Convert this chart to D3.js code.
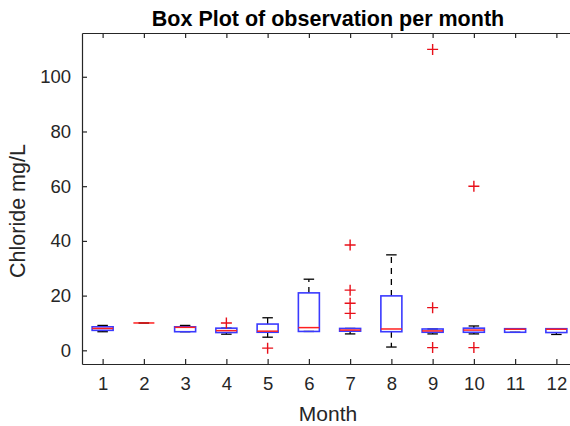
<!DOCTYPE html>
<html>
<head>
<meta charset="utf-8">
<script src="https://cdn.jsdelivr.net/npm/d3@7"></script>
<style>
  body { margin: 0; background: #fff; }
  svg { display: block; font-family: "Liberation Sans", Arial, sans-serif; }
</style>
</head>
<body>
<svg id="chart" width="570" height="426"></svg>
<script>
// values
const months = [1, 2, 3, 4, 5, 6, 7, 8, 9, 10, 11, 12];
const q1 = [7.3, 10, 6.8, 6.5, 6.6, 6.9, 7.0, 6.8, 6.6, 6.6, 6.6, 6.5];
const median = [8.0, 10, 8.4, 7.2, 7.0, 8.3, 7.4, 7.8, 7.1, 7.4, 7.7, 7.7];
const q3 = [8.6, 10, 8.6, 8.1, 9.6, 21, 8.0, 19.9, 7.8, 8.1, 7.9, 7.9];
const whiskerLow = [6.8, 10, 6.8, 5.9, 4.8, 6.9, 6.0, 1.2, 6.0, 6.0, 6.6, 5.8];
const whiskerHigh = [9.1, 10, 9.1, 8.1, 11.9, 26, 8.0, 34.9, 7.8, 8.9, 7.9, 7.9];
const outliers = [
    [], [], [], [10], [0.8], [],
    [13.5, 17.2, 22, 38.5], [], [1, 15.6, 110], [1, 60], [], []
];
const yTicks = [0, 20, 40, 60, 80, 100];

const svg = d3.select("#chart");

// plot box (right edge falls outside the window like in the picture)
const plotL = 82, plotR = 577, plotT = 33, plotB = 364;

const x = d3.scaleLinear().domain([0.5, 12.5]).range([plotL, plotR]);
const y = d3.scaleLinear().domain([-5, 116]).range([plotB, plotT]);

const axisColor = "#262626";
const boxW = 21, capW = 10.5, plusR = 5.5;

// axes (MATLAB style: ticks inside, box on)
const xAxis = svg.append("g")
    .attr("transform", `translate(0,${plotB})`)
    .call(d3.axisBottom(x).tickValues(months).tickSizeInner(-5).tickSizeOuter(0).tickPadding(13));
const xTop = svg.append("g")
    .attr("transform", `translate(0,${plotT})`)
    .call(d3.axisTop(x).tickValues(months).tickSizeInner(-5).tickSizeOuter(0).tickFormat(""));
const yAxis = svg.append("g")
    .attr("transform", `translate(${plotL},0)`)
    .call(d3.axisLeft(y).tickValues(yTicks).tickSizeInner(-5).tickSizeOuter(0).tickPadding(11));

[xAxis, xTop, yAxis].forEach(a => {
    a.select(".domain").attr("stroke", axisColor).attr("stroke-width", 1.2);
    a.selectAll(".tick line").attr("stroke", axisColor).attr("stroke-width", 1.2);
    a.selectAll(".tick text")
        .attr("fill", axisColor)
        .style("font-size", "18.5px")
        .style("font-family", "'Liberation Sans', Arial, sans-serif");
});
// right edge of the box
svg.append("line")
    .attr("x1", plotR).attr("x2", plotR).attr("y1", plotT).attr("y2", plotB)
    .attr("stroke", axisColor).attr("stroke-width", 1.2);

// boxes
const g = svg.append("g");
const data = months.map((m, i) => ({
    m, q1: q1[i], med: median[i], q3: q3[i],
    lo: whiskerLow[i], hi: whiskerHigh[i], out: outliers[i]
}));

const box = g.selectAll("g.box")
    .data(data)
    .join("g")
    .attr("class", "box");

// whiskers (dashed)
box.append("line")
    .attr("x1", d => x(d.m)).attr("x2", d => x(d.m))
    .attr("y1", d => y(d.q3)).attr("y2", d => y(d.hi))
    .attr("stroke", "#000").attr("stroke-width", 1.3)
    .attr("stroke-dasharray", "6,5");
box.append("line")
    .attr("x1", d => x(d.m)).attr("x2", d => x(d.m))
    .attr("y1", d => y(d.q1)).attr("y2", d => y(d.lo))
    .attr("stroke", "#000").attr("stroke-width", 1.3)
    .attr("stroke-dasharray", "6,5");

// caps
box.selectAll("line.cap")
    .data(d => [d.hi, d.lo].map(v => ({ m: d.m, v })))
    .join("line")
    .attr("class", "cap")
    .attr("x1", d => x(d.m) - capW / 2).attr("x2", d => x(d.m) + capW / 2)
    .attr("y1", d => y(d.v)).attr("y2", d => y(d.v))
    .attr("stroke", "#000").attr("stroke-width", 1.3);

// box outline
box.append("rect")
    .attr("x", d => x(d.m) - boxW / 2)
    .attr("width", boxW)
    .attr("y", d => y(d.q3))
    .attr("height", d => y(d.q1) - y(d.q3))
    .attr("fill", "none")
    .attr("stroke", "#3a3aff")
    .attr("stroke-width", 1.6);

// median
box.append("line")
    .attr("x1", d => x(d.m) - boxW / 2).attr("x2", d => x(d.m) + boxW / 2)
    .attr("y1", d => y(d.med)).attr("y2", d => y(d.med))
    .attr("stroke", "#ff2020").attr("stroke-width", 1.5);

// outliers as red +
box.selectAll("path.out")
    .data(d => d.out.map(v => ({ m: d.m, v })))
    .join("path")
    .attr("class", "out")
    .attr("d", d => {
        const cx = x(d.m), cy = y(d.v);
        return `M${cx - plusR},${cy}H${cx + plusR}M${cx},${cy - plusR}V${cy + plusR}`;
    })
    .attr("stroke", "#e8101a")
    .attr("stroke-width", 1.4)
    .attr("fill", "none");

// title and labels
svg.append("text")
    .attr("x", 328).attr("y", 26)
    .attr("text-anchor", "middle")
    .style("font-size", "21.5px")
    .style("font-weight", "bold")
    .attr("fill", "#000")
    .text("Box Plot of observation per month");

svg.append("text")
    .attr("x", 328).attr("y", 421)
    .attr("text-anchor", "middle")
    .style("font-size", "21px")
    .attr("fill", axisColor)
    .text("Month");

svg.append("text")
    .attr("transform", "translate(25,211) rotate(-90)")
    .attr("text-anchor", "middle")
    .style("font-size", "21.5px")
    .attr("fill", axisColor)
    .text("Chloride mg/L");
</script>
</body>
</html>
